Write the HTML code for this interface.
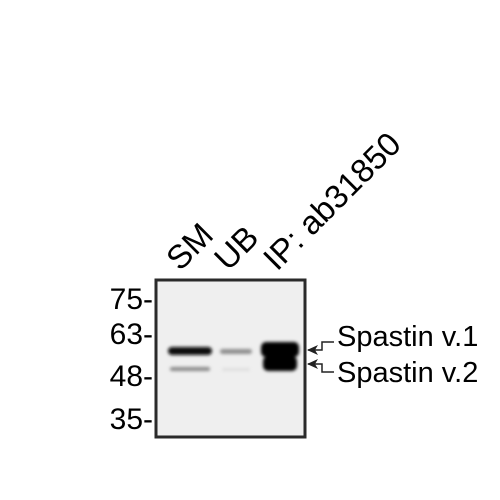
<!DOCTYPE html>
<html><head><style>body{margin:0;background:#fff}svg{display:block}</style></head><body>
<svg width="500" height="500" xmlns="http://www.w3.org/2000/svg" font-family="Liberation Sans, Arial, sans-serif">
<defs>
<filter id="blur" x="-20%" y="-50%" width="140%" height="200%"><feGaussianBlur stdDeviation="1.5"/></filter>
</defs>
<rect width="500" height="500" fill="#fff"/>
<rect x="156" y="280" width="149" height="157" fill="#efefef" stroke="#2a2a2a" stroke-width="3"/>
<g filter="url(#blur)">
<rect x="168" y="347" width="44" height="8" rx="4" fill="#080808"/>
<rect x="170" y="367" width="40" height="4" rx="2" fill="#8a8a8a"/>
<rect x="220" y="349" width="32" height="5" rx="2.5" fill="#8f8f8f"/>
<rect x="222" y="368" width="28" height="3" rx="1.5" fill="#dedede"/>
<rect x="261" y="342" width="38" height="15" rx="5" fill="#000"/>
<rect x="263" y="356" width="34" height="15" rx="5" fill="#000"/>
</g>
<g font-size="30" fill="#000" text-anchor="end">
<text x="153" y="309">75-</text>
<text x="153" y="344">63-</text>
<text x="153" y="386">48-</text>
<text x="153" y="429">35-</text>
</g>
<g font-size="33" fill="#000">
<text transform="translate(180,272) rotate(-45)">SM</text>
<text transform="translate(228,272) rotate(-45)">UB</text>
<text transform="translate(277,272) rotate(-45)">IP: ab31850</text>
</g>
<g stroke="#222" stroke-width="1.5" fill="none">
<polyline points="308,350 322,350 322,342 334,342"/>
<polyline points="308,364 322,364 322,372 334,372"/>
</g>
<polygon points="307,350 318,345 315,350 318,355" fill="#222"/>
<polygon points="307,364 318,359 315,364 318,369" fill="#222"/>
<g font-size="29" fill="#000">
<text x="337" y="346">Spastin v.1</text>
<text x="337" y="382">Spastin v.2</text>
</g>
</svg>
</body></html>
